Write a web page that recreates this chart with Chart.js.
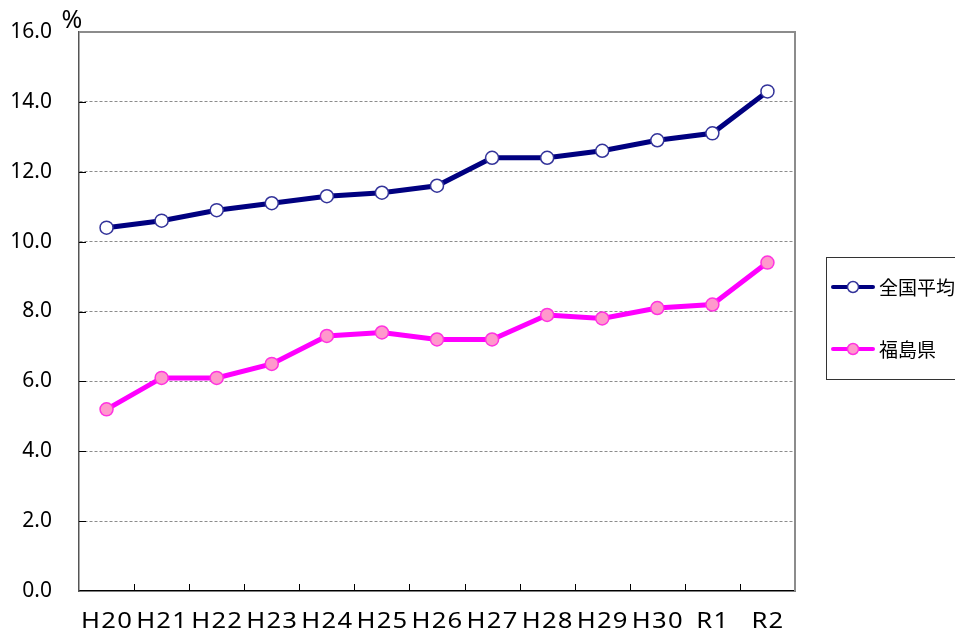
<!DOCTYPE html>
<html>
<head>
<meta charset="utf-8">
<script src="https://cdn.jsdelivr.net/npm/chart.js@4/dist/chart.umd.min.js"></script>
<style>
  html, body { margin: 0; padding: 0; background: #fff; }
  #wrap { width: 955px; height: 632px; position: relative; }
</style>
</head>
<body>
<div id="wrap"><canvas id="c" width="955" height="632"></canvas></div>
<script>
// Fiscal years
const years = ['H20', 'H21', 'H22', 'H23', 'H24', 'H25', 'H26', 'H27', 'H28', 'H29', 'H30', 'R1', 'R2'];
// Rates (%)
const national = [10.4, 10.6, 10.9, 11.1, 11.3, 11.4, 11.6, 12.4, 12.4, 12.6, 12.9, 13.1, 14.3];
const fukushima = [5.2, 6.1, 6.1, 6.5, 7.3, 7.4, 7.2, 7.2, 7.9, 7.8, 8.1, 8.2, 9.4];
const seriesNames = ['全国平均', '福島県'];
const yTicks = [0, 2, 4, 6, 8, 10, 12, 14, 16];

const FONT = '"Noto Sans", "Noto Sans CJK JP", sans-serif';

// Frame, inward ticks, wide x labels, unit mark and the legend box
const decorations = {
  id: 'decorations',
  afterDraw(chart) {
    const ctx = chart.ctx;
    const a = chart.chartArea;
    const xs = chart.scales.x;
    const ys = chart.scales.y;
    ctx.save();

    // top and right frame lines
    ctx.strokeStyle = '#8c8c8c';
    ctx.lineWidth = 2;
    ctx.beginPath();
    ctx.moveTo(a.left, a.top);
    ctx.lineTo(a.right, a.top);
    ctx.lineTo(a.right, a.bottom);
    ctx.stroke();

    // inward ticks on x axis (category boundaries)
    ctx.strokeStyle = '#000';
    ctx.lineWidth = 1;
    ctx.beginPath();
    for (let i = 1; i < years.length; i++) {
      const x = Math.round((xs.getPixelForValue(i - 1) + xs.getPixelForValue(i)) / 2) + 0.5;
      ctx.moveTo(x, a.bottom);
      ctx.lineTo(x, a.bottom - 7);
    }
    // inward ticks on y axis
    yTicks.forEach(v => {
      if (v === 0 || v === 16) return;
      const y = Math.round(ys.getPixelForValue(v)) + 0.5;
      ctx.moveTo(a.left, y);
      ctx.lineTo(a.left + 7, y);
    });
    ctx.stroke();

    // x labels, horizontally widened glyphs
    ctx.fillStyle = '#000';
    ctx.font = '21px ' + FONT;
    ctx.textAlign = 'center';
    ctx.textBaseline = 'middle';
    ctx.letterSpacing = '1px';
    const sx = 1.22;
    years.forEach((lab, i) => {
      ctx.save();
      ctx.translate(xs.getPixelForValue(i) + 0.5, 622);
      ctx.scale(sx, 1);
      ctx.fillText(lab, 0, 0);
      ctx.restore();
    });
    ctx.letterSpacing = '0px';

    // unit
    ctx.font = '25px ' + FONT;
    ctx.fillText('%', 72, 21);

    // legend box
    const bx = 826.5, by = 257.5, bw = 140, bh = 122;
    ctx.fillStyle = '#fff';
    ctx.fillRect(bx, by, bw, bh);
    ctx.strokeStyle = '#333';
    ctx.lineWidth = 1;
    ctx.strokeRect(bx, by, bw, bh);

    const dsets = chart.data.datasets;
    const rows = [287, 349];
    dsets.forEach((ds, i) => {
      const y = rows[i];
      ctx.strokeStyle = ds.borderColor;
      ctx.lineWidth = 4;
      ctx.lineCap = 'round';
      ctx.beginPath();
      ctx.moveTo(833, y);
      ctx.lineTo(873, y);
      ctx.stroke();
      ctx.beginPath();
      ctx.arc(853, y, 5.5, 0, Math.PI * 2);
      ctx.fillStyle = ds.pointBackgroundColor;
      ctx.fill();
      ctx.lineWidth = 1.5;
      ctx.strokeStyle = ds.pointBorderColor;
      ctx.stroke();
      ctx.fillStyle = '#000';
      ctx.font = '19px "Noto Sans CJK JP", sans-serif';
      ctx.textAlign = 'left';
      ctx.textBaseline = 'middle';
      ctx.fillText(ds.label, 879, y + 1);
    });
    ctx.restore();
  }
};

new Chart(document.getElementById('c'), {
  type: 'line',
  data: {
    labels: years,
    datasets: [
      {
        label: seriesNames[0],
        data: national,
        borderColor: '#000080',
        borderWidth: 5,
        pointRadius: 6.5,
        pointBorderWidth: 1.5,
        pointBackgroundColor: '#ffffff',
        pointBorderColor: '#33339a',
        tension: 0
      },
      {
        label: seriesNames[1],
        data: fukushima,
        borderColor: '#ff00ff',
        borderWidth: 5,
        pointRadius: 6.5,
        pointBorderWidth: 1.5,
        pointBackgroundColor: '#ff99cc',
        pointBorderColor: '#ff33e0',
        tension: 0
      }
    ]
  },
  options: {
    responsive: false,
    animation: false,
    devicePixelRatio: 1,
    layout: { padding: { top: 32, right: 160, left: 0, bottom: 0 } },
    plugins: {
      legend: { display: false },
      tooltip: { enabled: false }
    },
    scales: {
      x: {
        offset: true,
        grid: { display: false, drawTicks: false },
        border: { display: true, color: '#000', width: 1.5 },
        ticks: { display: false },
        afterFit(s) { s.height = 41; s.paddingLeft = 0; s.paddingRight = 0; }
      },
      y: {
        min: 0,
        max: 16,
        afterBuildTicks(s) { s.ticks = yTicks.map(v => ({ value: v })); },
        grid: {
          color: ctx => ctx.tick && (ctx.tick.value === 16 || ctx.tick.value === 0) ? 'rgba(0,0,0,0)' : '#8c8c8c',
          lineWidth: 1,
          drawTicks: false
        },
        border: { display: true, color: '#555', width: 1.5, dash: [3, 2] },
        ticks: {
          color: '#000',
          font: { family: FONT, size: 21 },
          padding: 27,
          callback: v => v.toFixed(1)
        },
        afterFit(s) { s.width = 79; s.paddingTop = 0; s.paddingBottom = 0; }
      }
    }
  },
  plugins: [decorations]
});
</script>
</body>
</html>
